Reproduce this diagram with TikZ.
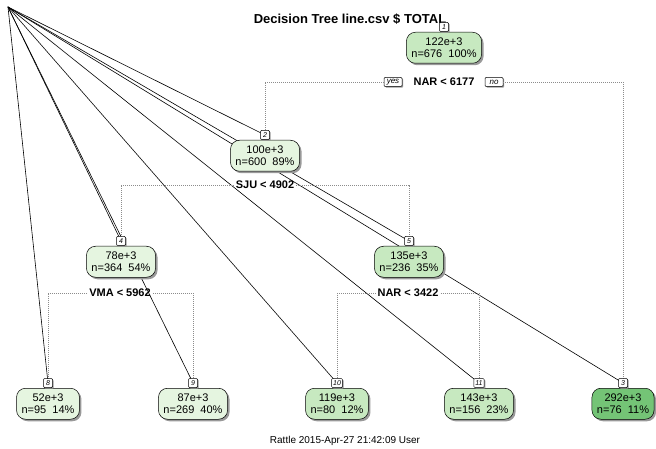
\documentclass[tikz,border=0pt]{standalone}
\usepackage{fontspec}
\setmainfont{Liberation Sans}
\usepackage{tkz-euclide}
\usetikzlibrary{shadows}
\definecolor{LowClr}{HTML}{E5F5E0}
\definecolor{MidClr}{HTML}{C7E9C0}
\definecolor{HighClr}{HTML}{74C476}
\definecolor{SplitClr}{HTML}{8C8C8C}

\begin{document}
\begin{tikzpicture}[x=1pt,y=-1pt,
  treenode/.style={draw,line width=0.5pt,rounded corners=9pt,align=center,anchor=north,
    font=\fontsize{11}{12}\selectfont,inner xsep=5pt,minimum height=31pt,
    drop shadow={shadow xshift=2pt,shadow yshift=-2pt,fill=black!40,opacity=1}},
  numbox/.style={draw,fill=white,line width=0.5pt,rounded corners=1pt,
    font=\fontsize{7}{7}\selectfont\itshape,inner xsep=1.5pt,inner ysep=1pt,
    minimum width=9pt,minimum height=9pt,
    drop shadow={shadow xshift=1.2pt,shadow yshift=-1.2pt,fill=black!40,opacity=1}},
  yesno/.style={numbox,font=\fontsize{8}{8}\selectfont\itshape,minimum width=18pt},
  splitlbl/.style={font=\fontsize{11}{12}\selectfont\bfseries,inner sep=2pt},
  splitline/.style={SplitClr,line width=0.6pt,dash pattern=on 0.8pt off 1.2pt}]
\useasboundingbox (0,0) rectangle (656,449);
\tkzSetUpLine[line width=0.6pt,color=black]

\tkzDefPoints{8/7/O,444/27/P1,265/135/P2,623/383/P3,121/241/P4,409/241/P5,
  48/383/P8,193/383/P9,337/383/P10,479/383/P11}

\node[font=\fontsize{13}{14}\selectfont\bfseries] (title) at (350,19) {Decision Tree line.csv \$ TOTAL};
\node[font=\fontsize{10}{11}\selectfont] (stamp) at (345,441) {Rattle 2015-Apr-27 21:42:09 User};

\tkzDrawSegments(O,P2 O,P3 O,P4 O,P5 O,P8 O,P9 O,P10 O,P11)

% split labels
\node[splitlbl] (S1) at (444,82) {NAR < 6177};
\node[yesno] (Y1) at (393,82) {yes};
\node[yesno] (X1) at (494,82) {no};
\node[splitlbl] (S2) at (265,185) {SJU < 4902};
\node[splitlbl] (S4) at (120,293) {VMA < 5962};
\node[splitlbl] (S5) at (408,293) {NAR < 3422};

\draw[splitline] (Y1.west) -| (P2);
\draw[splitline] (X1.east) -| (P3);
\draw[splitline] (S2.west) -| (P4);
\draw[splitline] (S2.east) -| (P5);
\draw[splitline] (S4.west) -| (P8);
\draw[splitline] (S4.east) -| (P9);
\draw[splitline] (S5.west) -| (P10);
\draw[splitline] (S5.east) -| (P11);

% nodes
\node[treenode,fill=MidClr] (N1) at ([yshift=-5pt]P1) {122e+3\\n=676\ \ 100\%};
\node[treenode,fill=LowClr] (N2) at ([yshift=-5pt]P2) {100e+3\\n=600\ \ 89\%};
\node[treenode,fill=LowClr] (N4) at ([yshift=-5pt]P4) {78e+3\\n=364\ \ 54\%};
\node[treenode,fill=MidClr] (N5) at ([yshift=-5pt]P5) {135e+3\\n=236\ \ 35\%};
\node[treenode,fill=LowClr] (N8) at ([yshift=-5pt]P8) {52e+3\\n=95\ \ 14\%};
\node[treenode,fill=LowClr] (N9) at ([yshift=-5pt]P9) {87e+3\\n=269\ \ 40\%};
\node[treenode,fill=MidClr] (N10) at ([yshift=-5pt]P10) {119e+3\\n=80\ \ 12\%};
\node[treenode,fill=MidClr] (N11) at ([yshift=-5pt]P11) {143e+3\\n=156\ \ 23\%};
\node[treenode,fill=HighClr] (N3) at ([yshift=-5pt]P3) {292e+3\\n=76\ \ 11\%};

\foreach \k in {1,2,3,4,5,8,9,10,11}
  \node[numbox] (K\k) at (P\k) {\k};

\end{tikzpicture}
\end{document}
